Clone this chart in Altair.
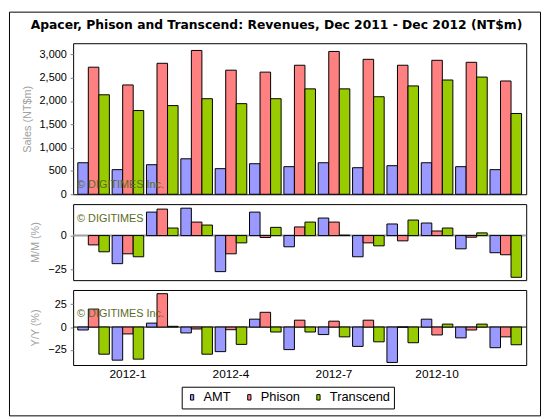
import altair as alt
import pandas as pd

months = ["2011-12", "2012-1", "2012-2", "2012-3", "2012-4", "2012-5", "2012-6",
          "2012-7", "2012-8", "2012-9", "2012-10", "2012-11", "2012-12"]
x_labels = ["2012-1", "2012-4", "2012-7", "2012-10"]
companies = ["AMT", "Phison", "Transcend"]
colors = ["#9999FF", "#FF8080", "#99CC00"]

amt_sales = [676, 528, 634, 761, 549, 655, 592, 676, 570, 613, 676, 592, 528]
phison_sales = [2726, 2345, 2810, 3085, 2662, 2620, 2768, 3064, 2895, 2768, 2874, 2831, 2430]
transcend_sales = [2134, 1796, 1902, 2050, 1944, 2050, 2261, 2261, 2092, 2324, 2451, 2514, 1733]

amt_mom = [None, -20.8, 17.4, 20.3, -26.7, 17.4, -8.3, 13.0, -15.7, 8.6, 9.3, -9.8, -12.7]
phison_mom = [-6.9, -13.5, 19.6, 10.0, -13.5, -1.4, 6.4, 10.0, -5.4, -3.9, 3.4, -1.2, -14.2]
transcend_mom = [-12.0, -15.7, 5.6, 7.8, -5.4, 6.1, 10.0, 0.3, -7.6, 11.5, 5.6, 2.0, -30.9]

amt_yoy = [-3.2, -36.1, 4.3, -6.4, -26.8, 8.6, -24.6, -8.2, -21.1, -38.6, 8.6, -11.8, -22.5]
phison_yoy = [19.6, -7.5, 36.4, -2.1, -2.9, 16.1, 7.5, 6.4, 7.5, 0.0, -8.6, -3.2, -10.7]
transcend_yoy = [-29.6, -35.0, 0.8, -29.6, -18.9, -5.4, -5.4, -10.7, -16.1, -17.1, 3.2, 3.2, -19.3]

title_text = "Apacer, Phison and Transcend: Revenues, Dec 2011 - Dec 2012 (NT$m)"
watermark = "\u00a9 DIGITIMES Inc."

rows = []
series = {
    "AMT": (amt_sales, amt_mom, amt_yoy),
    "Phison": (phison_sales, phison_mom, phison_yoy),
    "Transcend": (transcend_sales, transcend_mom, transcend_yoy),
}
for i, m in enumerate(months):
    for c in companies:
        s, mm, yy = series[c]
        rows.append({"month": m, "company": c, "sales": s[i], "mom": mm[i], "yoy": yy[i]})
df = pd.DataFrame(rows)

FONT = "Liberation Sans"
W = 459

def xenc(show):
    if show:
        ax = alt.Axis(values=x_labels, labelAngle=0, ticks=False, domain=False, title=None,
                      labelFont=FONT, labelFontSize=12, labelColor="black", labelPadding=4)
    else:
        ax = None
    return alt.X("month:N", sort=months, axis=ax,
                 scale=alt.Scale(paddingInner=0.08, paddingOuter=0.135))

legend = alt.Legend(orient="none", legendX=110, legendY=348, direction="horizontal", title=None,
                    strokeColor="black", padding=4, fillColor="white",
                    symbolType="M-0.3,-0.5H0.3V0.5H-0.3Z", symbolSize=121,
                    symbolStrokeColor="black", symbolStrokeWidth=1, symbolOpacity=1,
                    labelFont=FONT, labelFontSize=13, labelColor="black",
                    labelOffset=5, columnPadding=12)

color = alt.Color("company:N", sort=companies,
                  scale=alt.Scale(domain=companies, range=colors), legend=legend)
xoff = alt.XOffset("company:N", sort=companies)

def yaxis(title, values, fmt=None):
    kw = dict(values=values, title=title, grid=False, domain=False, ticks=True, tickSize=3,
              tickColor="#808080", labelFont=FONT, labelFontSize=11, labelColor="black",
              labelPadding=4, labelOverlap=False, labelBound=False, titleFont=FONT,
              titleFontSize=11, titleFontWeight="normal", titleColor="#A0A0A0", titlePadding=7)
    if fmt:
        kw["format"] = fmt
    return alt.Axis(**kw)

def wm(ypos):
    return alt.Chart(pd.DataFrame({"t": [watermark]})).mark_text(
        align="left", baseline="middle", font=FONT, fontSize=11, color="#5C6B23"
    ).encode(x=alt.value(4), y=alt.value(ypos), text="t:N")

def bars(field, yax, domain, show_x):
    return alt.Chart(df).mark_bar(stroke="black", strokeWidth=1).encode(
        x=xenc(show_x), xOffset=xoff,
        y=alt.Y(f"{field}:Q", axis=yax, scale=alt.Scale(domain=domain, nice=False)),
        color=color,
    )

def zero_rule(col, sw, yax, domain):
    return alt.Chart(pd.DataFrame({"v": [0]})).mark_rule(color=col, strokeWidth=sw).encode(
        y=alt.Y("v:Q", axis=yax, scale=alt.Scale(domain=domain, nice=False)))

# outer frame and title drawn in the top panel
frame = alt.Chart(pd.DataFrame({"t": [title_text]})).mark_rect(
    fill="white", fillOpacity=0, stroke="black", strokeWidth=1
).encode(x=alt.value(-64.5), x2=alt.value(473.5), y=alt.value(-31.5), y2=alt.value(377.5))
title = alt.Chart(pd.DataFrame({"t": [title_text]})).mark_text(
    align="center", baseline="middle", font="DejaVu Sans", fontSize=12.5, fontWeight="bold",
    color="black"
).encode(x=alt.value(206), y=alt.value(-18), text="t:N")

top = alt.layer(
    bars("sales", yaxis("Sales (NT$m)", [0, 500, 1000, 1500, 2000, 2500, 3000], ",.0f"),
         [0, 3240], False),
    frame, title, wm(144),
).properties(width=W, height=153)

mom_ax = yaxis("M/M (%)", [-25, 0])
mom_dom = [-33, 23.3]
mom = alt.layer(
    wm(15), zero_rule("#A0A0A0", 2, mom_ax, mom_dom),
    bars("mom", mom_ax, mom_dom, False),
).properties(width=W, height=77)

yoy_ax = yaxis("Y/Y (%)", [-25, 0, 25])
yoy_dom = [-41.4, 40.4]
yoy = alt.layer(
    zero_rule("black", 1, yoy_ax, yoy_dom),
    bars("yoy", yoy_ax, yoy_dom, True),
    wm(24),
).properties(width=W, height=76)

chart = alt.vconcat(top, mom, yoy, spacing=10, bounds="flush").resolve_scale(
    color="shared").resolve_legend(color="shared").properties(
    padding=0, background="white"
).configure_view(stroke="black", strokeWidth=1)

chart.save("out.html", embed_options={"renderer": "svg", "actions": False})
